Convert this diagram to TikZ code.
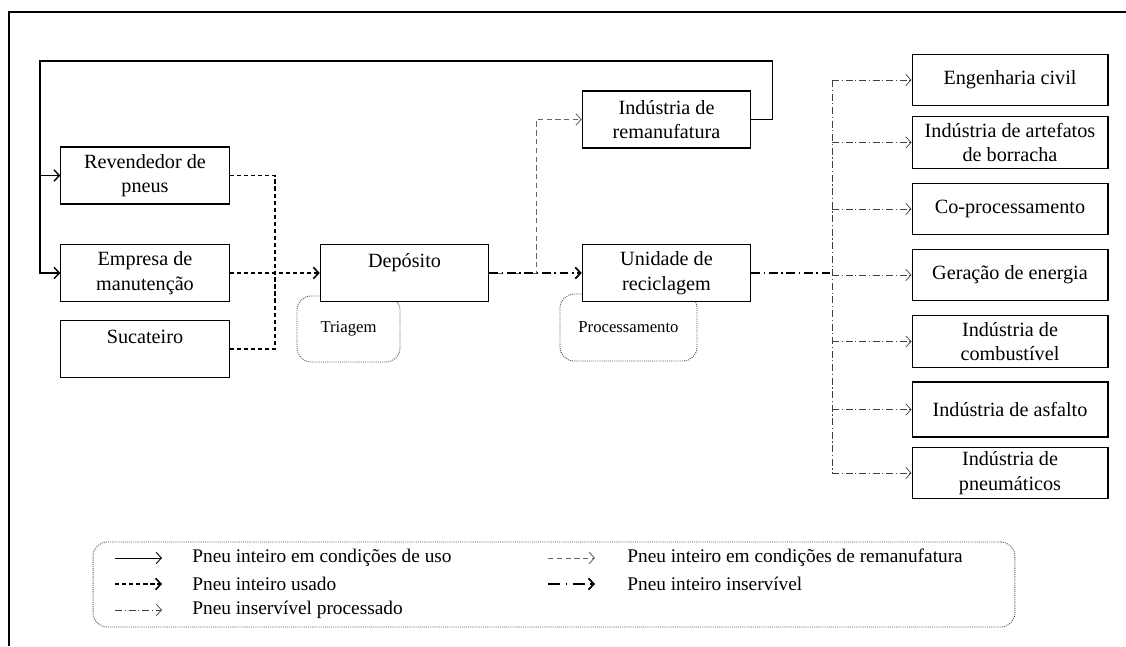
\documentclass[tikz,border=0pt]{standalone}
\usepackage{fontspec}
\setmainfont{Liberation Serif}
\usepackage{xcolor}
\usetikzlibrary{arrows.meta}

\begin{document}
\begin{tikzpicture}[x=0.02cm,y=-0.02cm,
    >={Straight Barb[length=3pt,width=6.5pt]},
    font=\fontsize{11.5}{14}\selectfont,
    caixa/.style={draw,line width=0.6pt,fill=white,align=center,inner sep=0pt,
        minimum width=3.37cm,minimum height=1.14cm},
    destino/.style={caixa,minimum width=3.92cm,minimum height=1.03cm},
    pontilhado/.style={draw=black!65,line width=0.5pt,dash pattern=on 0.6pt off 0.6pt,rounded corners=8pt},
    etapa/.style={pontilhado,font=\fontsize{9.5}{11}\selectfont},
    legenda/.style={anchor=west,inner sep=0pt,font=\fontsize{11}{13}\selectfont},
    uso/.style={line width=0.8pt,->},
    usado/.style={line width=0.9pt,dash pattern=on 2.5pt off 1.5pt,->},
    reman/.style={black!60,line width=0.5pt,dash pattern=on 3pt off 2pt,->},
    inservivel/.style={line width=1pt,dash pattern=on 5pt off 2pt on 1pt off 2pt,->},
    processado/.style={black!75,line width=0.4pt,dash pattern=on 4pt off 1.5pt on 0.7pt off 1.5pt,->}]

    \useasboundingbox (0,0) rectangle (1126,646);

    % Moldura
    \draw[line width=1.2pt] (9,646) -- (9,12) -- (1126,12);

    % Etapas
    \node[etapa,minimum width=2.06cm,minimum height=1.32cm] (triagem) at (348.5,329) {Triagem};
    \node[etapa,minimum width=2.74cm,minimum height=1.34cm] (processamento) at (628.5,327.5) {Processamento};

    % Origem dos pneus
    \node[caixa] (revendedor) at (145,175.5) {Revendedor de\\pneus};
    \node[caixa] (empresa) at (145,273) {Empresa de\\manutenção};
    \node[caixa] (sucateiro) at (145,349) {Sucateiro\\\mbox{}};

    % Deposito, remanufatura e reciclagem
    \node[caixa] (deposito) at (404.5,273) {Depósito\\\mbox{}};
    \node[caixa] (remanufatura) at (666.5,119.5) {Indústria de\\remanufatura};
    \node[caixa] (unidade) at (666.5,273) {Unidade de\\reciclagem};

    % Destinos
    \node[destino] (civil) at (1010,80) {Engenharia civil};
    \node[destino] (artefatos) at (1010,142.5) {Indústria de artefatos\\de borracha};
    \node[destino] (coprocessamento) at (1010,209) {Co-processamento};
    \node[destino] (energia) at (1010,275) {Geração de energia};
    \node[destino] (combustivel) at (1010,341.5) {Indústria de\\combustível};
    \node[destino,minimum height=1.1cm] (asfalto) at (1010,409.5) {Indústria de asfalto};
    \node[destino] (pneumaticos) at (1010,473) {Indústria de\\pneumáticos};

    % Pneu inteiro em condicoes de uso
    \draw[uso] (remanufatura.east) -- ++(21,0) |- (40,61) |- (empresa.west);
    \draw[uso] (revendedor.west -| 40,0) -- (revendedor.west);

    % Pneu inteiro usado
    \coordinate (juncao) at (275,273);
    \draw[usado,-] (revendedor.east) -| (juncao);
    \draw[usado,-] (sucateiro.east) -| (juncao);
    \draw[usado] (empresa.east) -- (deposito.west);

    % Pneu inteiro em condicoes de remanufatura
    \draw[reman] (deposito.east) -- ++(47,0) |- (remanufatura.west);

    % Pneu inteiro inservivel
    \draw[inservivel] (deposito.east) -- (unidade.west);
    \coordinate (tronco) at (832,273);
    \draw[inservivel,-] (unidade.east) -- (tronco);

    % Pneu inservivel processado
    \draw[processado,-] (civil.west -| tronco) -- (pneumaticos.west -| tronco);
    \draw[processado] (civil.west -| tronco) -- (civil.west);
    \draw[processado] (artefatos.west -| tronco) -- (artefatos.west);
    \draw[processado] (coprocessamento.west -| tronco) -- (coprocessamento.west);
    \draw[processado] (energia.west -| tronco) -- (energia.west);
    \draw[processado] (combustivel.west -| tronco) -- (combustivel.west);
    \draw[processado] (asfalto.west -| tronco) -- (asfalto.west);
    \draw[processado] (pneumaticos.west -| tronco) -- (pneumaticos.west);

    % Legenda
    \node[pontilhado,minimum width=18.44cm,minimum height=1.7cm] (quadro) at (554,584.5) {};
    \node[legenda] (l1) at (192,558) {Pneu inteiro em condições de uso};
    \node[legenda] (l2) at (192,584) {Pneu inteiro usado};
    \node[legenda] (l3) at (192,610) {Pneu inservível processado};
    \node[legenda] (l4) at (627,558) {Pneu inteiro em condições de remanufatura};
    \node[legenda] (l5) at (627,584) {Pneu inteiro inservível};
    \draw[uso,line width=0.5pt] (l1.west) ++(-77,0) -- ++(47,0);
    \draw[usado] (l2.west) ++(-77,0) -- ++(47,0);
    \draw[processado] (l3.west) ++(-77,0) -- ++(47,0);
    \draw[reman] (l4.west) ++(-79,0) -- ++(47,0);
    \draw[inservivel,dash pattern=on 7pt off 3pt on 1pt off 3pt] (l5.west) ++(-79,0) -- ++(47,0);
\end{tikzpicture}
\end{document}
